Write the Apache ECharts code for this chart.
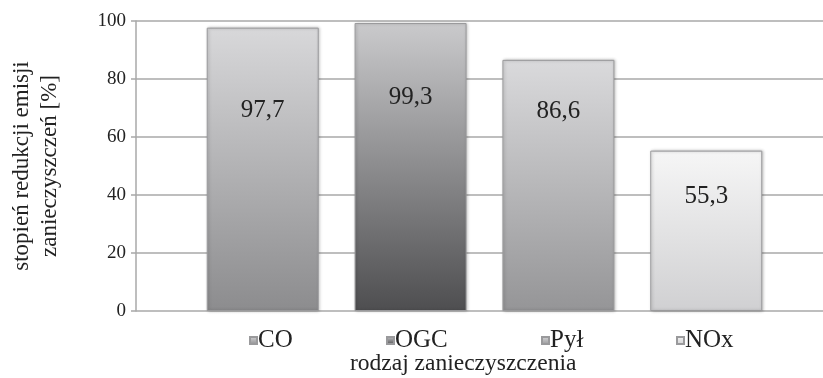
<!DOCTYPE html>
<html>
<head>
<meta charset="utf-8">
<script src="https://cdn.jsdelivr.net/npm/echarts@6/dist/echarts.min.js"></script>
<style>
  html, body { margin: 0; padding: 0; background: #fff; }
  #chart { width: 823px; height: 378px; }
</style>
</head>
<body>
<div id="chart"></div>
<script>
// dane
const kategorie = ["CO", "OGC", "Pył", "NOx"];
const wartosci = [97.7, 99.3, 86.6, 55.3];
const etykiety = ["97,7", "99,3", "86,6", "55,3"];

const serif = "'Liberation Serif', 'Times New Roman', serif";

// kolory gradientu (góra, dół) dla każdej serii
const kolory = [
  ["#d8d8da", "#8c8c8e"],
  ["#cacacc", "#4e4e50"],
  ["#dadadc", "#959597"],
  ["#f6f6f6", "#d0d0d2"],
];
const odstepEtykiety = [70, 62, 39, 33];
const legendaX = [249, 386, 541, 676];

var dom = document.getElementById("chart");
var myChart = echarts.init(dom, null, { renderer: "canvas" });

const series = kategorie.map((nazwa, i) => {
  return {
    name: nazwa,
    type: "bar",
    barWidth: 112,
    barGap: "32%",
    data: [wartosci[i]],
    itemStyle: {
      color: new echarts.graphic.LinearGradient(0, 0, 0, 1, [
        { offset: 0, color: kolory[i][0] },
        { offset: 1, color: kolory[i][1] },
      ]),
      borderColor: "#9a9a9c",
      borderWidth: 1,
      shadowColor: "rgba(0,0,0,0.25)",
      shadowBlur: 3,
      shadowOffsetX: 1,
    },
    label: {
      show: true,
      position: "insideTop",
      distance: odstepEtykiety[i],
      formatter: () => etykiety[i],
      fontFamily: serif,
      fontSize: 25,
      color: "#222",
    },
  };
});

// osobna legenda dla każdej serii, żeby zachować odstępy jak w oryginale
const legendy = kategorie.map((nazwa, i) => ({
  data: [nazwa],
  top: 328,
  left: legendaX[i],
  padding: 0,
  itemWidth: 7,
  itemHeight: 7,
  icon: "rect",
  textStyle: { fontFamily: serif, fontSize: 25, color: "#222", padding: [0, 0, 0, -4] },
}));

var option = {
  animation: false,
  backgroundColor: "#fff",
  grid: { left: 136, right: -10, top: 21, bottom: 67, containLabel: false, outerBoundsMode: "none" },
  legend: legendy,
  xAxis: {
    type: "category",
    data: [""],
    axisLine: { show: false },
    axisTick: { show: false },
    axisLabel: { show: false },
  },
  yAxis: {
    type: "value",
    min: 0,
    max: 100,
    interval: 20,
    name: "stopień redukcji emisji\nzanieczyszczeń [%]",
    nameLocation: "middle",
    nameGap: 72,
    nameTextStyle: { fontFamily: serif, fontSize: 23, color: "#222", lineHeight: 28 },
    axisLine: { show: true, lineStyle: { color: "#a8a8a8", width: 1.5 } },
    axisTick: { show: true, length: 5, lineStyle: { color: "#a8a8a8", width: 1.5 } },
    axisLabel: { fontFamily: serif, fontSize: 19, color: "#222", margin: 10 },
    splitLine: { lineStyle: { color: "#a8a8a8", width: 1.5 } },
  },
  graphic: [
    {
      type: "text",
      left: 350,
      top: 352,
      style: { text: "rodzaj zanieczyszczenia", font: "23.5px " + serif, fill: "#222" },
    },
  ],
  series,
};

myChart.setOption(option);
</script>
</body>
</html>
